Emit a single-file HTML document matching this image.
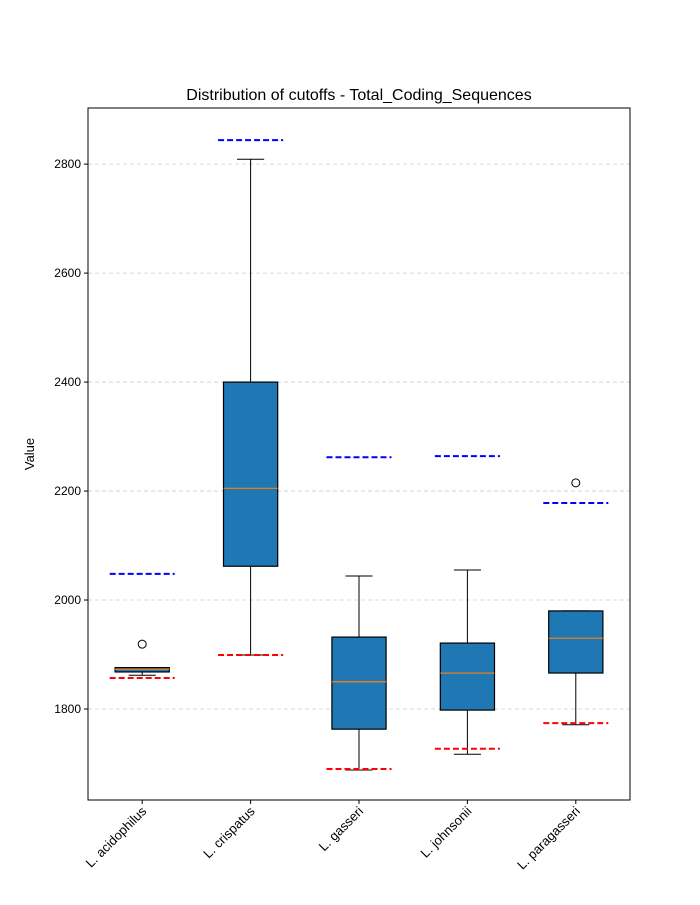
<!DOCTYPE html>
<html><head><meta charset="utf-8"><style>body{margin:0;background:#fff}svg{font-family:"Liberation Sans",sans-serif}</style></head>
<body>
<svg id="chart" width="700" height="900">
<text x="359" y="100" text-anchor="middle" font-size="16">Distribution of cutoffs - Total_Coding_Sequences</text>
<text transform="translate(34,454) rotate(-90)" text-anchor="middle" font-size="13">Value</text>
<g id="grid"></g><g id="marks"></g><g id="axes"></g>
</svg>
<script>
const categories=["L. acidophilus","L. crispatus","L. gasseri","L. johnsonii","L. paragasseri"];
const whiskerLow=[1862,1899,1688,1717,1771];
const q1=[1868,2062,1763,1798,1866];
const medians=[1873,2205,1850,1866,1930];
const q3=[1876,2400,1932,1921,1980];
const whiskerHigh=[1876,2809,2044,2055,1980];
const outliers=[[1919],[],[],[],[2215]];
const upperCutoff=[2048,2844,2262,2264,2178];
const lowerCutoff=[1857,1899,1690,1727,1774];
const yTicks=[1800,2000,2200,2400,2600,2800];
const L=88,R=630,T=108,B=800,yMin=1633,yMax=2903;
const y=v=>B-(v-yMin)/(yMax-yMin)*(B-T);
const x=i=>L+(i+0.5)*(R-L)/categories.length;
const unit=(R-L)/categories.length;
const NS="http://www.w3.org/2000/svg";
function mk(t,a,p){const e=document.createElementNS(NS,t);for(const k in a)e.setAttribute(k,a[k]);p.appendChild(e);return e;}
const grid=document.getElementById('grid'),marks=document.getElementById('marks'),axes=document.getElementById('axes');
yTicks.forEach(t=>{
 const g=mk('line',{x1:L,x2:R,y1:y(t),y2:y(t),stroke:'#ccc','stroke-dasharray':'4,3','stroke-width':0.8},grid);
 
 
 const tk=mk('line',{x1:L-4,x2:L,y1:y(t),y2:y(t),stroke:'#000'},axes);
 
 
 const lb=mk('text',{x:L-7,y:y(t)+4,'text-anchor':'end','font-size':12},axes);
 lb.textContent=t;
 
 
});
categories.forEach((c,i)=>{
 const cx=x(i),hw=unit*0.25,cw=unit*0.125,dw=unit*0.3;
 const g=mk('g',{},marks);
 
 
 mk('line',{x1:cx,x2:cx,y1:y(whiskerLow[i]),y2:y(q1[i]),stroke:'#000'},g);
 mk('line',{x1:cx,x2:cx,y1:y(q3[i]),y2:y(whiskerHigh[i]),stroke:'#000'},g);
 mk('line',{x1:cx-cw,x2:cx+cw,y1:y(whiskerLow[i]),y2:y(whiskerLow[i]),stroke:'#000'},g);
 mk('line',{x1:cx-cw,x2:cx+cw,y1:y(whiskerHigh[i]),y2:y(whiskerHigh[i]),stroke:'#000'},g);
 mk('rect',{x:cx-hw,y:y(q3[i]),width:2*hw,height:y(q1[i])-y(q3[i]),fill:'#1f77b4',stroke:'#000','stroke-width':1.2},g);
 mk('line',{x1:cx-hw,x2:cx+hw,y1:y(medians[i]),y2:y(medians[i]),stroke:'#ff7f0e','stroke-width':1.2},g);
 outliers[i].forEach(o=>mk('circle',{cx:cx,cy:y(o),r:4,fill:'none',stroke:'#000'},g));
 const u=mk('line',{x1:cx-dw,x2:cx+dw,y1:y(upperCutoff[i]),y2:y(upperCutoff[i]),stroke:'#00f','stroke-width':2,'stroke-dasharray':'6,3'},marks);
 
 
 const d=mk('line',{x1:cx-dw,x2:cx+dw,y1:y(lowerCutoff[i]),y2:y(lowerCutoff[i]),stroke:'#f00','stroke-width':2,'stroke-dasharray':'6,3'},marks);
 
 
 const tk=mk('line',{x1:cx,x2:cx,y1:B,y2:B+4,stroke:'#000'},axes);
 
 
 const lb=mk('text',{x:0,y:0,'text-anchor':'end','font-size':13,transform:`translate(${cx+5},${B+12}) rotate(-45)`},axes);
 lb.textContent=c;
 
 
});
const fr=mk('rect',{x:L,y:T,width:R-L,height:B-T,fill:'none',stroke:'#000','stroke-width':1},axes);


</script>
</body></html>
